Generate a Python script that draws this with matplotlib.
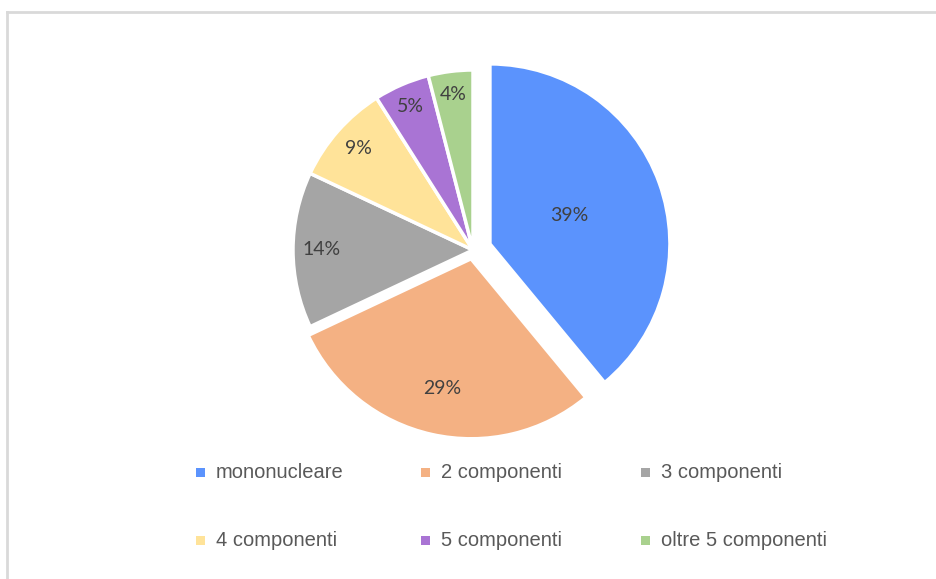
import numpy as np
import matplotlib
matplotlib.use("Agg")
from matplotlib import pyplot as plt
from matplotlib.lines import Line2D
from matplotlib.patches import Rectangle

labels = ["mononucleare", "2 componenti", "3 componenti",
          "4 componenti", "5 componenti", "oltre 5 componenti"]
shares = [39, 29, 14, 9, 5, 4]
colors = ["#5B93FD", "#F4B183", "#A5A5A5", "#FFE399", "#A974D4", "#A9D18E"]
explode = [0.10, 0.05, 0, 0, 0, 0]
# how far out each percentage label sits (fraction of radius)
label_dist = [0.47, 0.74, 0.84, 0.85, 0.87, 0.87]

W, H = 937, 579
fig = plt.figure(figsize=(W / 100, H / 100), dpi=100)

# frame like the spreadsheet chart area
fig.add_artist(Line2D([7 / W, 7 / W], [0, 1 - 12 / H], color="#D9D9D9", lw=2,
                      transform=fig.transFigure))
fig.add_artist(Line2D([7 / W, 1], [1 - 12 / H, 1 - 12 / H], color="#D9D9D9", lw=2,
                      transform=fig.transFigure))

r_px = 180
cx, cy = 473, 250
span = 1.25
ax = fig.add_axes([(cx - span * r_px) / W, (H - cy - span * r_px) / H,
                   2 * span * r_px / W, 2 * span * r_px / H])
wedges, texts, autotexts = ax.pie(
    shares, colors=colors, explode=explode, startangle=90, counterclock=False,
    autopct="%d%%", radius=1.0,
    wedgeprops=dict(edgecolor="white", linewidth=2.5),
    textprops=dict(color="#404040", fontsize=14, family=["Lato", "DejaVu Sans"]),
)
for w, t, d in zip(wedges, autotexts, label_dist):
    mid = np.deg2rad((w.theta1 + w.theta2) / 2)
    x0, y0 = w.center
    t.set_position((x0 + d * w.r * np.cos(mid), y0 + d * w.r * np.sin(mid)))
ax.set_xlim(-span, span)
ax.set_ylim(-span, span)
ax.set_aspect("equal")
ax.axis("off")

# legend, laid out row by row as in the original
col_x = [196, 421, 641]
row_y = [472, 540]
for i, (lab, c) in enumerate(zip(labels, colors)):
    x = col_x[i % 3]
    y = row_y[i // 3]
    fig.add_artist(Rectangle((x / W, (H - y - 4.5) / H), 9 / W, 9 / H,
                             facecolor=c, edgecolor="none", transform=fig.transFigure))
    fig.text((x + 20) / W, (H - y) / H, lab, color="#595959", fontsize=14.5,
             family=["Liberation Sans", "DejaVu Sans"], va="center", ha="left")

plt.savefig("out.png", dpi=100)
plt.close()
